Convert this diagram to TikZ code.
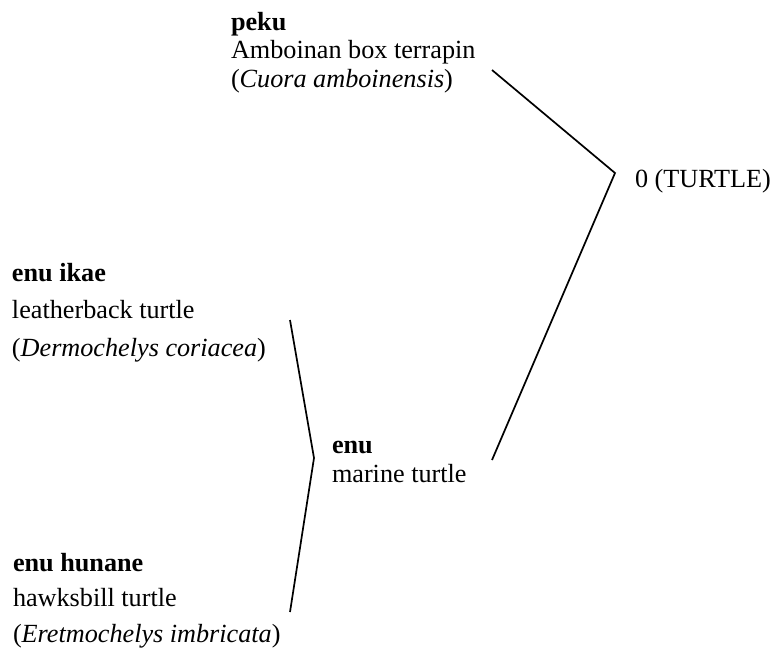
\documentclass[tikz,border=0pt]{standalone}
\usepackage{fontspec}
\setmainfont{Liberation Serif}
\begin{document}
\begin{tikzpicture}[x=1pt,y=-1pt,
  lab/.style={anchor=base west, inner sep=0pt, outer sep=0pt, align=left},
  tight/.style={font=\fontsize{26.2}{28.5}\selectfont},
  loose/.style={font=\fontsize{26.2}{37.5}\selectfont},
  mid/.style={font=\fontsize{26.2}{29}\selectfont},
  looser/.style={font=\fontsize{26.2}{35.5}\selectfont},
  branch/.style={line width=1.7pt, line join=miter}]
\useasboundingbox (0,0) rectangle (777,649);
% labels (anchored at the baseline of their last line)
\node[lab,tight] (peku) at (231,87) {\textbf{peku}\\Amboinan box terrapin\\(\textit{Cuora amboinensis})};
\node[lab,tight] (turtle) at (635,187) {0 (TURTLE)};
\node[lab,loose] (ikae) at (12,356) {\textbf{enu ikae}\\leatherback turtle\\(\textit{Dermochelys coriacea})};
\node[lab,mid] (enu) at (332,482) {\textbf{enu}\\marine turtle};
\node[lab,looser] (hunane) at (13,642) {\textbf{enu hunane}\\hawksbill turtle\\(\textit{Eretmochelys imbricata})};
% connector end points
\coordinate (pekuEnd) at (492,70);
\coordinate (turtleV) at (615,173);
\coordinate (enuEnd) at (492,460);
\coordinate (ikaeEnd) at (290,320);
\coordinate (enuV) at (314,458);
\coordinate (hunaneEnd) at (290,612);
% connectors
\draw[branch] (pekuEnd) -- (turtleV) -- (enuEnd);
\draw[branch] (ikaeEnd) -- (enuV) -- (hunaneEnd);
\end{tikzpicture}
\end{document}
